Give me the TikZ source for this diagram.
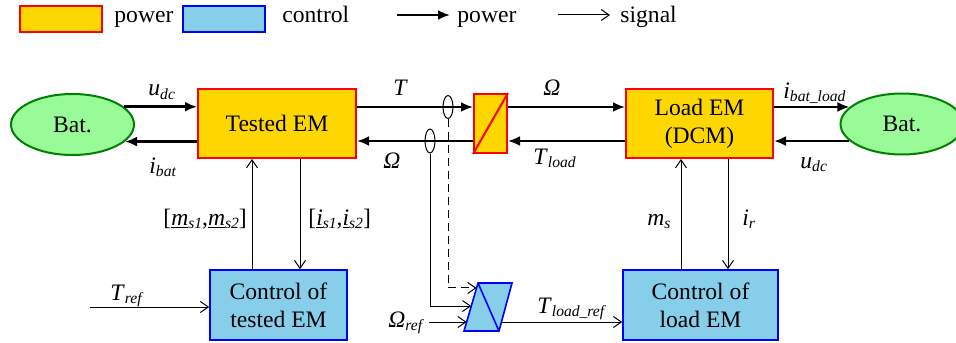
\documentclass[tikz,border=0pt]{standalone}
\usepackage{fontspec}
\setmainfont{LiberationSerif}[Extension=.ttf,UprightFont=*-Regular,ItalicFont=*-Italic,BoldFont=*-Bold,BoldItalicFont=*-BoldItalic]
\usepackage{xcolor}
\usepackage{tikz}
\usetikzlibrary{calc,arrows.meta,shapes.geometric}
\definecolor{pwrfill}{HTML}{FFD700}
\definecolor{pwrline}{HTML}{FF0000}
\definecolor{ctlfill}{HTML}{87CEEB}
\definecolor{ctlline}{HTML}{0000FF}
\definecolor{batfill}{HTML}{98FB98}
\definecolor{batline}{HTML}{008000}
\newcommand{\vsub}[2]{\textit{#1}\raisebox{-0.35ex}{\fontsize{7.8}{9}\selectfont\itshape #2}}
\tikzset{
  pwr/.style={-{Latex[length=6pt,width=5pt]},line width=1.3pt},
  sig/.style={-{Straight Barb[length=4pt,width=5.5pt]},line width=0.5pt},
  pbox/.style={draw=pwrline,line width=1pt,fill=pwrfill,inner sep=0pt,align=center},
  cbox/.style={draw=ctlline,line width=0.8pt,fill=ctlfill,inner sep=0pt,align=center},
  bat/.style={ellipse,draw=batline,line width=1pt,fill=batfill,minimum width=61.5pt,minimum height=30.5pt,inner sep=0pt},
  sens/.style={ellipse,draw,line width=0.5pt,minimum width=5pt,inner sep=0pt},
  lbl/.style={anchor=base west,inner sep=0pt}
}
\begin{document}
\begin{tikzpicture}[x=0.5pt,y=-0.5pt,font=\fontsize{11.8}{14}\selectfont]
\useasboundingbox (0,0) rectangle (956,342);
\node[pbox,minimum width=41pt,minimum height=13pt] (lgP) at (61,19) {};
\node[lbl] (lgPt) at (114,23) {power};
\node[cbox,minimum width=41pt,minimum height=13pt] (lgC) at (224,19) {};
\node[lbl] (lgCt) at (282,23) {control};
\coordinate (lgA1) at (397,15); \coordinate (lgA2) at (450,15);
\draw[pwr] (lgA1) -- (lgA2);
\node[lbl] (lgAt) at (457,23) {power};
\coordinate (lgS1) at (558,15); \coordinate (lgS2) at (610,15);
\draw[sig] (lgS1) -- (lgS2);
\node[lbl] (lgSt) at (620,23) {signal};
\node[bat] (batL) at (72.5,124.5) {Bat.};
\node[bat] (batR) at (902,124) {Bat.};
\node[pbox,minimum width=79pt,minimum height=34.5pt] (tem) at (277,123.5) {Tested EM};
\node[pbox,minimum width=73.5pt,minimum height=34.5pt] (lem) at (699.5,123.5) {Load EM\\(DCM)};
\node[cbox,minimum width=68.5pt,minimum height=35pt] (ctem) at (278.5,305) {Control of\\tested EM};
\node[cbox,minimum width=77.5pt,minimum height=35pt] (clem) at (700.5,305) {Control of\\load EM};
\node[pbox,minimum width=16.5pt,minimum height=29.5pt] (conv) at (490.5,123.5) {};
\draw[pwrline,line width=1pt] (conv.south west) -- (conv.north east);
\node[sens,minimum height=11.5pt] (sT) at (448,107) {};
\node[sens,minimum height=12pt] (sW) at (430,141) {};
\draw[pwr] (batL.19) -- (batL.19 -| tem.west);
\draw[pwr] (batL.-18 -| tem.west) -- (batL.-18);
\draw[pwr] (tem.east |- sT) -- (conv.west |- sT);
\draw[pwr] (conv.west |- sW) -- (tem.east |- sW);
\draw[pwr] (conv.east |- sT) -- (lem.west |- sT);
\draw[pwr] (lem.west |- sW) -- (conv.east |- sW);
\draw[pwr] (batR.162 -| lem.east) -- (batR.162);
\draw[pwr] (batR.198) -- (batR.198 -| lem.east);
\coordinate (mT) at ($(ctem.north)+(-26.5,0)$);
\coordinate (iT) at ($(tem.south)+(23,0)$);
\coordinate (mL) at ($(clem.north)+(-19.5,0)$);
\coordinate (iL) at ($(lem.south)+(28.5,0)$);
\draw[sig] (mT) -- (mT |- tem.south);
\draw[sig] (iT) -- (iT |- ctem.north);
\draw[sig] (mL) -- (mL |- lem.south);
\draw[sig] (iL) -- (iL |- clem.north);
\coordinate (tref) at (90,307);
\draw[sig] (tref) -- (tref -| ctem.west);
\coordinate (pbl) at (464,331); \coordinate (ptl) at (478,283);
\coordinate (ptr) at (512,283); \coordinate (pbr) at (499,331);
\filldraw[draw=ctlline,fill=ctlfill,line width=0.8pt] (pbl) -- (ptl) -- (ptr) -- (pbr) -- cycle;
\draw[ctlline,line width=0.8pt] (ptl) -- (pbr);
\coordinate (dIn) at ($(pbl)!0.896!(ptl)$);
\coordinate (wIn) at ($(pbl)!0.52!(ptl)$);
\coordinate (rIn) at ($(pbl)!0.1875!(ptl)$);
\coordinate (rOut) at ($(pbr)!0.1875!(ptr)$);
\coordinate (wref) at (429,322);
\draw[sig,dash pattern=on 4pt off 2.5pt] (sT.south) |- (dIn);
\draw[sig] (sW.south) |- (wIn);
\draw[sig] (wref) -- (rIn);
\draw[sig] (rOut) -- (rOut -| clem.west);
\node[lbl] (lUl) at (148,96) {\vsub{u}{dc}};
\node[lbl] (lIb) at (149,173) {\vsub{i}{bat}};
\node[lbl] (lT) at (393,96) {\textit{T}};
\node[lbl] (lWt) at (543,96) {\textit{Ω}};
\node[lbl] (lWb) at (383,168) {\textit{Ω}};
\node[lbl] (lTl) at (533,164) {\vsub{T}{load}};
\node[lbl] (lIbl) at (783,98) {\vsub{i}{bat\_load}};
\node[lbl] (lUr) at (800,168) {\vsub{u}{dc}};
\node[lbl] (lMs) at (163,225) {[\vsub{\underline{m}}{s1},\vsub{\underline{m}}{s2}]};
\node[lbl] (lIs) at (308,225) {[\vsub{\underline{i}}{s1},\vsub{\underline{i}}{s2}]};
\node[lbl] (lMl) at (647,225) {\vsub{m}{s}};
\node[lbl] (lIr) at (742,225) {\vsub{i}{r}};
\node[lbl] (lTr) at (110,300) {\vsub{T}{ref}};
\node[lbl] (lWr) at (388,327) {\vsub{Ω}{ref}};
\node[lbl] (lTlr) at (537,313) {\vsub{T}{load\_ref}};
\end{tikzpicture}
\end{document}
